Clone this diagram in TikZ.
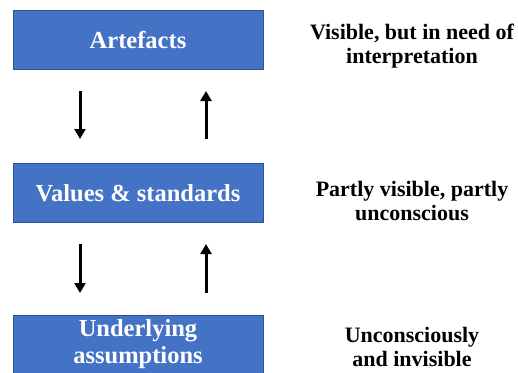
\documentclass[tikz,border=0pt]{standalone}
\usepackage{fontspec}
\setmainfont{Liberation Serif}
\usetikzlibrary{arrows.meta}
\definecolor{boxfill}{HTML}{4472C4}
\definecolor{boxline}{HTML}{2F528F}
\tikzset{
  layerbox/.style={draw=boxline, line width=1pt, fill=boxfill, text=white,
    minimum width=250pt, minimum height=59pt, inner sep=0pt, align=center,
    font=\bfseries\fontsize{24.5}{27}\selectfont},
  sidetext/.style={anchor=base, align=center, inner sep=0pt,
    font=\bfseries\fontsize{22}{23.5}\selectfont},
  flow/.style={line width=3pt, -{Triangle[width=11pt,length=10pt]}}
}
\begin{document}
\begin{tikzpicture}[x=1pt,y=-1pt]
\useasboundingbox (0,0) rectangle (518,372);
\node[layerbox] (art) at (138,39.5) {Artefacts};
\node[layerbox] (val) at (138,193) {Values \& standards};
\node[layerbox] (und) at (138,344.5) {Underlying\\assumptions};
\node[sidetext] (t1) at (412,63) {Visible, but in need of\\interpretation};
\node[sidetext] (t2) at (412,220) {Partly visible, partly\\unconscious};
\node[sidetext] (t3) at (412,366) {Unconsciously\\and invisible};
\coordinate (a1s) at (80,91);
\coordinate (a1e) at (80,139);
\coordinate (b1s) at (206,139);
\coordinate (b1e) at (206,91);
\coordinate (a2s) at (80,244);
\coordinate (a2e) at (80,293);
\coordinate (b2s) at (206,293);
\coordinate (b2e) at (206,244);
\draw[flow] (a1s) -- (a1e);
\draw[flow] (b1s) -- (b1e);
\draw[flow] (a2s) -- (a2e);
\draw[flow] (b2s) -- (b2e);
\end{tikzpicture}
\end{document}
